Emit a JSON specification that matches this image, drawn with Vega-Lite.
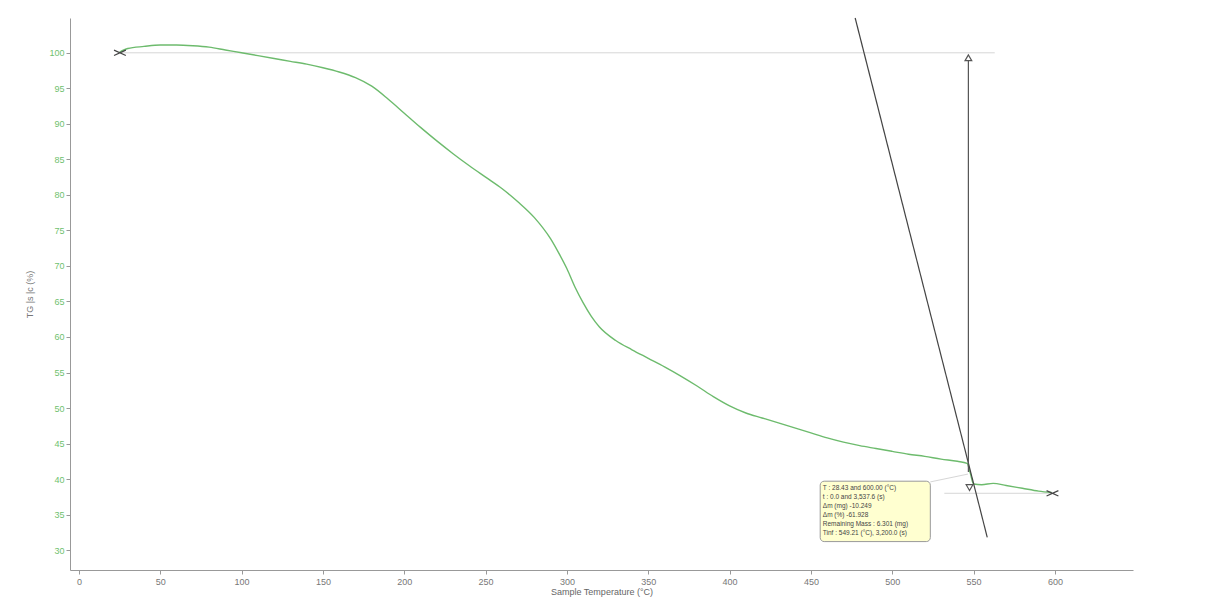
{
  "$schema": "https://vega.github.io/schema/vega-lite/v6.json",
  "autosize": {"type": "none"},
  "padding": {"left": 70, "top": 18, "right": 87, "bottom": 30},
  "width": 1063,
  "height": 552,
  "background": "white",
  "config": {
    "view": {"stroke": null},
    "font": "Liberation Sans"
  },
  "datasets": {
    "curve": [
      {"T": 25, "v": 100.1}, {"T": 30, "v": 100.6}, {"T": 40, "v": 100.9}, {"T": 50, "v": 101.1},
      {"T": 60, "v": 101.1}, {"T": 70, "v": 101.0}, {"T": 80, "v": 100.8}, {"T": 90, "v": 100.4},
      {"T": 100, "v": 100.0}, {"T": 110, "v": 99.6}, {"T": 120, "v": 99.2}, {"T": 130, "v": 98.8},
      {"T": 140, "v": 98.4}, {"T": 150, "v": 97.9}, {"T": 160, "v": 97.3}, {"T": 170, "v": 96.5},
      {"T": 180, "v": 95.3}, {"T": 190, "v": 93.5}, {"T": 200, "v": 91.5}, {"T": 210, "v": 89.5},
      {"T": 220, "v": 87.6}, {"T": 230, "v": 85.8}, {"T": 240, "v": 84.1}, {"T": 250, "v": 82.5},
      {"T": 260, "v": 80.9}, {"T": 270, "v": 79.0}, {"T": 280, "v": 76.8}, {"T": 290, "v": 73.8},
      {"T": 295, "v": 71.8}, {"T": 300, "v": 69.6}, {"T": 305, "v": 67.0}, {"T": 310, "v": 64.8},
      {"T": 315, "v": 62.9}, {"T": 320, "v": 61.4}, {"T": 330, "v": 59.5}, {"T": 340, "v": 58.2},
      {"T": 350, "v": 57.0}, {"T": 360, "v": 55.8}, {"T": 370, "v": 54.5}, {"T": 380, "v": 53.1},
      {"T": 390, "v": 51.6}, {"T": 400, "v": 50.3}, {"T": 410, "v": 49.3}, {"T": 420, "v": 48.6},
      {"T": 430, "v": 47.9}, {"T": 440, "v": 47.2}, {"T": 450, "v": 46.5}, {"T": 460, "v": 45.8},
      {"T": 470, "v": 45.2}, {"T": 480, "v": 44.7}, {"T": 490, "v": 44.3}, {"T": 500, "v": 43.9},
      {"T": 510, "v": 43.5}, {"T": 520, "v": 43.2}, {"T": 530, "v": 42.8}, {"T": 540, "v": 42.5},
      {"T": 546, "v": 42.2}, {"T": 548, "v": 40.8}, {"T": 550, "v": 39.3}, {"T": 555, "v": 39.2},
      {"T": 562, "v": 39.4}, {"T": 570, "v": 39.1}, {"T": 580, "v": 38.7}, {"T": 590, "v": 38.3},
      {"T": 598, "v": 38.1}
    ],
    "guides": [
      {"g": "top", "T": 25, "v": 100.0}, {"g": "top", "T": 563, "v": 100.0},
      {"g": "bottom", "T": 532, "v": 38.0}, {"g": "bottom", "T": 600, "v": 38.0},
      {"g": "conn", "T": 523.4, "v": 39.6}, {"g": "conn", "T": 546.5, "v": 40.7}
    ],
    "tangent": [{"T": 477.2, "v": 104.9}, {"T": 558.4, "v": 31.8}],
    "vertical": [{"T": 546.8, "v": 99.3}, {"T": 546.8, "v": 41.0}],
    "crosses": [{"T": 25.2, "v": 100.0}, {"T": 598.5, "v": 38.0}],
    "upTri": [{"T": 546.8, "v": 99.3}],
    "downTri": [{"T": 547.5, "v": 38.8}],
    "box": [{"T": 455.7, "T2": 523.4, "v": 39.7, "v2": 31.2}],
    "boxText": [
      {"T": 457.3, "v": 38.7, "label": "T : 28.43 and 600.00 (°C)"},
      {"T": 457.3, "v": 37.45, "label": "t : 0.0 and 3,537.6 (s)"},
      {"T": 457.3, "v": 36.2, "label": "Δm (mg) -10.249"},
      {"T": 457.3, "v": 34.95, "label": "Δm (%) -61.928"},
      {"T": 457.3, "v": 33.7, "label": "Remaining Mass : 6.301 (mg)"},
      {"T": 457.3, "v": 32.45, "label": "Tinf : 549.21 (°C), 3,200.0 (s)"}
    ]
  },
  "encoding": {
    "x": {
      "field": "T", "type": "quantitative",
      "scale": {"domain": [-5.5, 648], "nice": false, "zero": false},
      "axis": {
        "title": "Sample Temperature (°C)",
        "titleFontSize": 9, "titleFontWeight": "normal", "titleColor": "#666", "titlePadding": 1,
        "values": [0, 50, 100, 150, 200, 250, 300, 350, 400, 450, 500, 550, 600],
        "labelFontSize": 9, "labelColor": "#777", "labelPadding": 3, "labelOverlap": false,
        "domainColor": "#999", "tickColor": "#999", "tickSize": 4,
        "grid": false
      }
    },
    "y": {
      "field": "v", "type": "quantitative",
      "scale": {"domain": [27.2, 104.9], "nice": false, "zero": false},
      "axis": {
        "title": "TG |s |c (%)",
        "titleFontSize": 9, "titleFontWeight": "normal", "titleColor": "#777", "titlePadding": 14,
        "values": [30, 35, 40, 45, 50, 55, 60, 65, 70, 75, 80, 85, 90, 95, 100],
        "labelFontSize": 9, "labelColor": "#6fbf6f", "labelPadding": 2, "labelOverlap": false,
        "domainColor": "#999", "tickColor": "#999", "tickSize": 4,
        "grid": false
      }
    }
  },
  "layer": [
    {
      "data": {"name": "guides"},
      "mark": {"type": "line", "color": "#d6d6d6", "strokeWidth": 1},
      "encoding": {"detail": {"field": "g", "type": "nominal"}}
    },
    {
      "data": {"name": "curve"},
      "mark": {"type": "line", "color": "#6dbb6d", "strokeWidth": 1.4, "interpolate": "monotone"},
      "encoding": {}
    },
    {
      "data": {"name": "tangent"},
      "mark": {"type": "line", "color": "#444", "strokeWidth": 1.2},
      "encoding": {}
    },
    {
      "data": {"name": "vertical"},
      "mark": {"type": "line", "color": "#555", "strokeWidth": 1.2},
      "encoding": {}
    },
    {
      "data": {"name": "upTri"},
      "mark": {"type": "point", "shape": "triangle-up", "filled": true, "fill": "white", "stroke": "#555", "strokeWidth": 1.2, "size": 45, "opacity": 1}
    },
    {
      "data": {"name": "downTri"},
      "mark": {"type": "point", "shape": "triangle-down", "filled": true, "fill": "white", "stroke": "#555", "strokeWidth": 1.2, "size": 45, "opacity": 1}
    },
    {
      "data": {"name": "crosses"},
      "mark": {"type": "point", "shape": "M-1,-0.45L1,0.45M-1,0.45L1,-0.45", "filled": false, "stroke": "#444", "strokeWidth": 1.2, "size": 140, "opacity": 1}
    },
    {
      "data": {"name": "box"},
      "mark": {"type": "rect", "fill": "#ffffd0", "stroke": "#999", "strokeWidth": 1, "cornerRadius": 4},
      "encoding": {
        "x2": {"field": "T2"},
        "y2": {"field": "v2"}
      }
    },
    {
      "data": {"name": "boxText"},
      "mark": {"type": "text", "align": "left", "baseline": "middle", "fontSize": 6.5, "color": "#444", "font": "Liberation Sans"},
      "encoding": {
        "text": {"field": "label"}
      }
    }
  ]
}
